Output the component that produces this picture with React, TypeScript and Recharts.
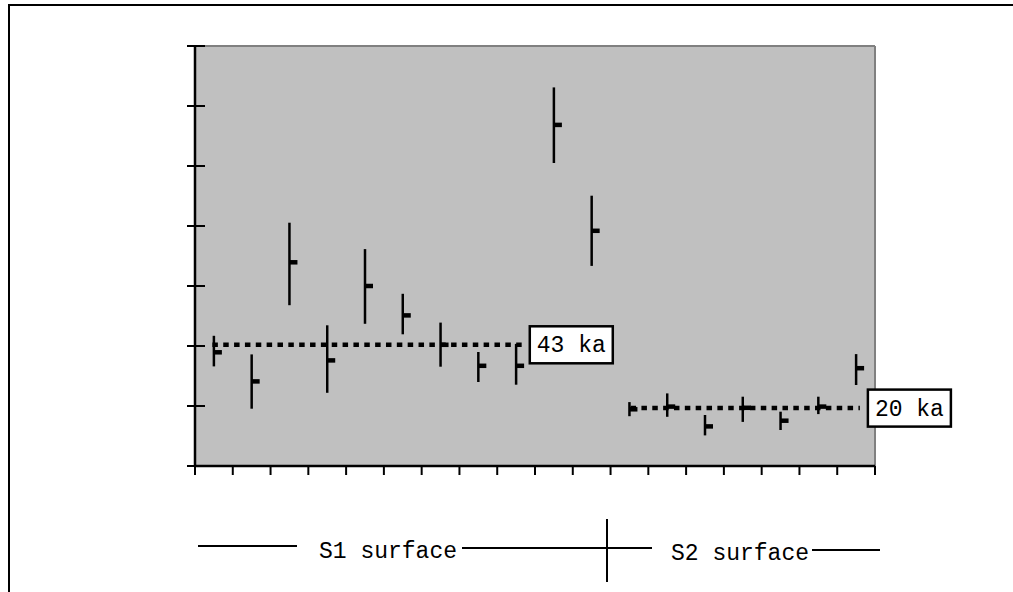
import React from 'react';
import { ComposedChart, XAxis, YAxis, Scatter, ErrorBar, ReferenceLine, CartesianGrid } from 'recharts';

// sample positions (centre of each of the 18 sample slots)
const samplePos = [0.5, 1.5, 2.5, 3.5, 4.5, 5.5, 6.5, 7.5, 8.5, 9.5, 10.5, 11.5, 12.5, 13.5, 14.5, 15.5, 16.5, 17.5];
const highs = [43.4, 37.2, 81.1, 46.9, 72.3, 57.4, 47.8, 38.0, 40.7, 126.2, 90.1, 21.3, 24.2, 17.0, 23.1, 18.1, 23.1, 37.3];
const lows = [33.2, 19.1, 53.6, 24.4, 47.4, 43.9, 33.1, 28.0, 27.1, 101.0, 66.7, 16.6, 16.4, 10.2, 14.7, 12.0, 17.3, 27.0];
const closes = [37.9, 28.2, 67.9, 35.2, 60.0, 50.2, 40.4, 33.4, 33.4, 113.7, 78.4, 18.9, 19.8, 13.2, 19.4, 15.1, 19.8, 32.6];

const yTicks = [0, 20, 40, 60, 80, 100, 120, 140];
const xTicks = [0, 1, 2, 3, 4, 5, 6, 7, 8, 9, 10, 11, 12, 13, 14, 15, 16, 17, 18];
const xMax = 18;
const yMax = 140;

// mean-age reference lines
const refLabels = ['43 ka', '20 ka'];
const refValues = [40.4, 19.3];
const refFrom = [0.46, 11.53];
const refTo = [8.65, 17.6];

const legendLabels = ['S1 surface', 'S2 surface'];

const data = samplePos.map((x, i) => ({
  x,
  close: closes[i],
  err: [closes[i] - lows[i], highs[i] - closes[i]],
}));

const MONO = "'Courier New', 'Liberation Mono', monospace";

const CloseTick = (props: any) => {
  const { cx, cy } = props;
  if (cx == null || cy == null) return null;
  return <rect x={cx} y={cy - 2.25} width={8} height={4.5} fill="#000" />;
};

const YTick = (props: any) => {
  const { x, y } = props;
  return <line x1={x - 8} x2={x + 10} y1={y} y2={y} stroke="#000" strokeWidth={2} />;
};

const XTick = (props: any) => {
  const { x, y } = props;
  return <line x1={x} x2={x} y1={y} y2={y + 9} stroke="#000" strokeWidth={2} />;
};

const boxLabel = (text: string) => (props: any) => {
  const vb = props.viewBox || {};
  const bx = vb.x + vb.width + 8;
  const cy = vb.y;
  return (
    <g>
      <rect x={bx} y={cy - 18.5} width={83} height={37} fill="#fff" stroke="#000" strokeWidth={2.5} />
      <text x={bx + 41.5} y={cy + 7.5} textAnchor="middle" fontFamily={MONO} fontSize={23} fill="#000">
        {text}
      </text>
    </g>
  );
};

export default function App() {
  return (
    <div style={{ position: 'fixed', left: 0, top: 0, width: 1013, height: 592, overflow: 'hidden', background: '#fff' }}>
      <div
        style={{
          position: 'absolute',
          left: 8,
          top: 4,
          width: 1100,
          height: 700,
          borderLeft: '2px solid #000',
          borderTop: '2px solid #000',
        }}
      />
      <div style={{ position: 'absolute', left: 0, top: 0 }}>
        <ComposedChart
          width={1013}
          height={592}
          data={data}
          margin={{ top: 46, left: 194, right: 138, bottom: 125 }}
        >
          <CartesianGrid fill="#c0c0c0" horizontal={false} vertical={false} stroke="none" />
          <XAxis
            dataKey="x"
            type="number"
            domain={[0, xMax]}
            ticks={xTicks}
            interval={0}
            height={1}
            tickSize={0}
            tickMargin={0}
            tickLine={false}
            tick={<XTick />}
            axisLine={{ stroke: '#000', strokeWidth: 2.5 }}
            allowDataOverflow
          />
          <YAxis
            type="number"
            domain={[0, yMax]}
            ticks={yTicks}
            interval={0}
            width={1}
            tickSize={0}
            tickMargin={0}
            tickLine={false}
            tick={<YTick />}
            axisLine={{ stroke: '#000', strokeWidth: 2.5 }}
            allowDataOverflow
          />
          <ReferenceLine y={yMax} stroke="#808080" strokeWidth={2} ifOverflow="visible" />
          <ReferenceLine x={xMax} stroke="#808080" strokeWidth={2} ifOverflow="visible" />
          <Scatter dataKey="close" isAnimationActive={false} shape={<CloseTick />}>
            <ErrorBar dataKey="err" direction="y" width={0} stroke="#000" strokeWidth={2.5} isAnimationActive={false} />
          </Scatter>
          {refValues.map((v, i) => (
            <ReferenceLine
              key={refLabels[i]}
              segment={[
                { x: refFrom[i], y: v },
                { x: refTo[i], y: v },
              ]}
              stroke="#000"
              strokeWidth={4.5}
              strokeDasharray="5.5 5.35"
              ifOverflow="visible"
              label={boxLabel(refLabels[i])}
            />
          ))}
        </ComposedChart>
      </div>
      <svg
        width={1013}
        height={592}
        style={{ position: 'absolute', left: 0, top: 0, pointerEvents: 'none' }}
      >
        <line x1={198} x2={297} y1={546} y2={546} stroke="#000" strokeWidth={2} />
        <text x={319} y={558} fontFamily={MONO} fontSize={23} fill="#000">
          {legendLabels[0]}
        </text>
        <line x1={462} x2={652} y1={548} y2={548} stroke="#000" strokeWidth={2} />
        <line x1={607} x2={607} y1={519} y2={582} stroke="#000" strokeWidth={2} />
        <text x={671} y={560} fontFamily={MONO} fontSize={23} fill="#000">
          {legendLabels[1]}
        </text>
        <line x1={812} x2={880} y1={550} y2={550} stroke="#000" strokeWidth={2} />
      </svg>
    </div>
  );
}
